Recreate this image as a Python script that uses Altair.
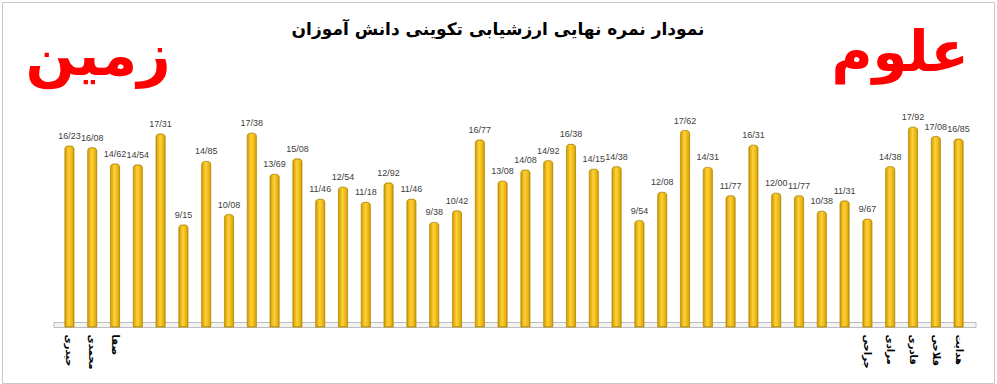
import json
import altair as alt
import pandas as pd

values = [16.23, 16.08, 14.62, 14.54, 17.31, 9.15, 14.85, 10.08, 17.38, 13.69,
          15.08, 11.46, 12.54, 11.18, 12.92, 11.46, 9.38, 10.42, 16.77, 13.08,
          14.08, 14.92, 16.38, 14.15, 14.38, 9.54, 12.08, 17.62, 14.31, 11.77,
          16.31, 12.00, 11.77, 10.38, 11.31, 9.67, 14.38, 17.92, 17.08, 16.85]
names = ["حیدری", "محمدی", "صفا"] + [""] * 32 + ["جراحی", "مرادی", "قادری", "فلاحی", "هدایت"]
title_text = "نمودار نمره نهایی ارزشیابی  تکوینی دانش آموزان"
left_word = "زمین"
right_word = "علوم"

df = pd.DataFrame({
    "idx": list(range(len(values))),
    "value": values,
    "label": [f"{v:.2f}".replace(".", "/") for v in values],
})
one = pd.DataFrame({"a": [0]})

label_expr = json.dumps(names, ensure_ascii=False) + "[datum.value]"

x = alt.X("idx:O",
          scale=alt.Scale(paddingInner=0.6, paddingOuter=0.3),
          axis=alt.Axis(title=None, labelExpr=label_expr, labelAngle=90,
                        ticks=False, domain=False, labelFontSize=10,
                        labelFontWeight="bold", labelFont="DejaVu Sans",
                        labelColor="#000000", labelPadding=7, zindex=1))
y = alt.Y("value:Q", scale=alt.Scale(domain=[0, 20]), axis=None)

frame = alt.Chart(one).mark_rect(fill="transparent", stroke="#c8c8c8", strokeWidth=1).encode(
    x=alt.value(-55.5), x2=alt.value(936.5), y=alt.value(-101.5), y2=alt.value(279.5))

floor = alt.Chart(one).mark_rect(fill="#f3f3f3", stroke="#bdbdbd", strokeWidth=1).encode(
    x=alt.value(-4), x2=alt.value(918), y=alt.value(218.5), y2=alt.value(223.5))

grad = alt.Gradient(gradient="linear", x1=0, x2=1, y1=0, y2=0,
                    stops=[alt.GradientStop(color="#D69A00", offset=0),
                           alt.GradientStop(color="#FFD236", offset=0.45),
                           alt.GradientStop(color="#DDA000", offset=1)])

bars = alt.Chart(df).mark_bar(color=grad, stroke="#B38A00", strokeWidth=0.8,
                              cornerRadiusTopLeft=3, cornerRadiusTopRight=3).encode(x=x, y=y)

labels = alt.Chart(df).mark_text(dy=-5, baseline="bottom", fontSize=9,
                                 font="Liberation Sans", color="#404040").encode(
    x=x, y=y, text="label:N")

title = alt.Chart(one).mark_text(text=title_text, font="DejaVu Sans", fontSize=17,
                                 fontWeight="bold", color="#000000").encode(
    x=alt.value(440), y=alt.value(-74))

lw = alt.Chart(one).mark_text(text=left_word, font="DejaVu Sans", fontSize=58,
                              fontWeight="bold", color="#FF0000").encode(
    x=alt.value(40), y=alt.value(-46))
rw = alt.Chart(one).mark_text(text=right_word, font="DejaVu Sans", fontSize=56,
                              fontWeight="bold", color="#FF0000").encode(
    x=alt.value(842), y=alt.value(-50))

chart = alt.layer(frame, floor, bars, labels, title, lw, rw).properties(
    width=912, height=223,
    autosize=alt.AutoSizeParams(type="none"),
    padding={"left": 58, "top": 104, "right": 27, "bottom": 57},
    background="white",
).configure_view(stroke=None)

chart.save("out.html", embed_options={"renderer": "svg", "actions": False})
